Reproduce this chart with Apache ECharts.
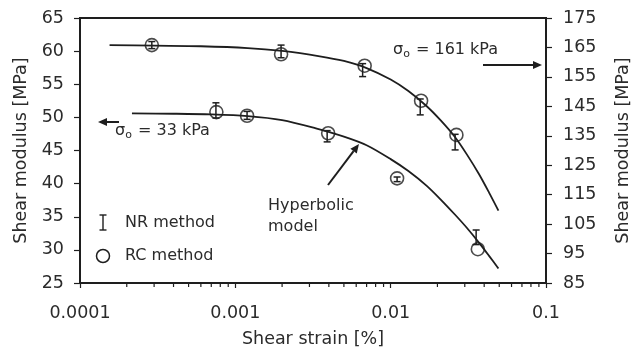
<!DOCTYPE html>
<html>
<head>
<meta charset="utf-8">
<script src="https://cdn.jsdelivr.net/npm/echarts@6/dist/echarts.min.js"></script>
<style>
html,body{margin:0;padding:0;background:#fff;}
#chart{width:640px;height:356px;}
</style>
</head>
<body>
<div id="chart"></div>
<script>
// ---- data ----
const xTickLabels = ['0.0001', '0.001', '0.01', '0.1'];
const leftTicks = [25, 30, 35, 40, 45, 50, 55, 60, 65];
const rightTicks = [85, 95, 105, 115, 125, 135, 145, 155, 165, 175];
const minorTickStrain = [0.0002,0.0003,0.0004,0.0005,0.0006,0.0007,0.0008,0.0009,
                         0.002,0.003,0.004,0.005,0.006,0.007,0.008,0.009,
                         0.02,0.03,0.04,0.05,0.06,0.07,0.08,0.09];

// sigma_o = 33 kPa (left axis)
const rcStrain33 = [0.000755, 0.00119, 0.00396, 0.0110, 0.0364];
const rcG33      = [50.8, 50.25, 47.6, 40.8, 30.1];
const nrStrain33 = [0.00075, 0.00119, 0.0039, 0.0110, 0.0355];
const nrLow33    = [49.9, 49.7, 46.3, 40.3, 30.8];
const nrHigh33   = [52.2, 50.9, 48.0, 41.0, 33.0];
const curveStrain33 = [0.000216, 0.0004, 0.0007, 0.0012, 0.002, 0.0033, 0.005, 0.007, 0.010, 0.013, 0.017, 0.021, 0.026, 0.031, 0.037, 0.043, 0.0494];
const curveG33      = [50.6, 50.55, 50.45, 50.2, 49.6, 48.35, 47.1, 45.8, 43.7, 41.9, 39.7, 37.6, 35.3, 33.3, 31.1, 29.1, 27.2];

// sigma_o = 161 kPa (right axis)
const rcStrain161 = [0.00029, 0.00197, 0.0068, 0.0157, 0.0265];
const rcG161      = [165.8, 162.7, 158.8, 146.9, 135.3];
const nrStrain161 = [0.00029, 0.00197, 0.0066, 0.0155, 0.0260];
const nrLow161    = [164.6, 161.5, 155.1, 142.1, 130.2];
const nrHigh161   = [167.0, 165.8, 159.5, 147.5, 135.5];
const curveStrain161 = [0.000155, 0.0003, 0.0006, 0.0012, 0.002, 0.0035, 0.005, 0.007, 0.010, 0.013, 0.017, 0.021, 0.026, 0.031, 0.037, 0.043, 0.0494];
const curveG161      = [165.8, 165.6, 165.4, 164.8, 163.8, 162.0, 160.4, 158.0, 154.1, 150.2, 145.1, 140.2, 134.5, 128.6, 122.0, 115.7, 109.6];

// ---- helpers ----
const zip = (a, b) => a.map((v, i) => [v, b[i]]);
const zip3 = (a, b, c) => a.map((v, i) => [v, b[i], c[i]]);
const INK = '#1e1e1e';
const TXT = '#2b2b2b';
const FONT = '"DejaVu Sans", "Liberation Sans", Arial, sans-serif';

function errorBar(params, api) {
  const x = api.value(0);
  const p1 = api.coord([x, api.value(1)]);
  const p2 = api.coord([x, api.value(2)]);
  const w = 3.5;
  const st = { stroke: INK, lineWidth: 1.5 };
  return {
    type: 'group',
    children: [
      { type: 'line', shape: { x1: p1[0], y1: p1[1], x2: p2[0], y2: p2[1] }, style: st },
      { type: 'line', shape: { x1: p1[0] - w, y1: p1[1], x2: p1[0] + w, y2: p1[1] }, style: st },
      { type: 'line', shape: { x1: p2[0] - w, y1: p2[1], x2: p2[0] + w, y2: p2[1] }, style: st }
    ]
  };
}
function minorTick(params, api) {
  const p = api.coord([api.value(0), leftTicks[0]]);
  return { type: 'line', shape: { x1: p[0], y1: p[1], x2: p[0], y2: p[1] + 4 }, style: { stroke: INK, lineWidth: 1.2 } };
}

function arrow(x1, y1, x2, y2) {
  const ang = Math.atan2(y2 - y1, x2 - x1);
  const L = 9, H = 4;
  const bx = x2 - L * Math.cos(ang), by = y2 - L * Math.sin(ang);
  const nx = -Math.sin(ang) * H, ny = Math.cos(ang) * H;
  return {
    type: 'group',
    children: [
      { type: 'line', shape: { x1: x1, y1: y1, x2: bx, y2: by }, style: { stroke: INK, lineWidth: 2 } },
      { type: 'polygon', shape: { points: [[x2, y2], [bx + nx, by + ny], [bx - nx, by - ny]] }, style: { fill: INK } }
    ]
  };
}
const sigmaRich = {
  s: { fontFamily: FONT, fontSize: 16, fill: TXT, color: TXT },
  o: { fontFamily: FONT, fontSize: 11, fill: TXT, color: TXT, padding: [9, 1, 0, 0] }
};

const chart = echarts.init(document.getElementById('chart'), null, { renderer: 'canvas' });
const axisLabelStyle = { fontFamily: FONT, fontSize: 17.5, color: TXT };
const nameStyle = { fontFamily: FONT, fontSize: 17.5, color: TXT };

const option = {
  backgroundColor: '#fff',
  animation: false,
  grid: { left: 80, right: 88, top: 18, bottom: 73, show: true, borderColor: INK, borderWidth: 2, backgroundColor: 'transparent' },
  xAxis: {
    type: 'log', logBase: 10, min: 0.0001, max: 0.1,
    name: 'Shear strain [%]', nameLocation: 'middle', nameGap: 47, nameTextStyle: nameStyle,
    axisLine: { lineStyle: { color: INK, width: 2 } },
    axisTick: { length: 5, lineStyle: { color: INK, width: 1.2 } },
    axisLabel: Object.assign({ margin: 21, formatter: v => xTickLabels[Math.round(Math.log10(v)) + 4] }, axisLabelStyle),
    splitLine: { show: false }
  },
  yAxis: [
    {
      type: 'value', min: leftTicks[0], max: leftTicks[leftTicks.length - 1], interval: 5, position: 'left',
      name: 'Shear modulus [MPa]', nameLocation: 'middle', nameGap: 47, nameRotate: 90, nameTextStyle: nameStyle,
      axisLine: { show: true, lineStyle: { color: INK, width: 2 } },
      axisTick: { show: true, length: 6, lineStyle: { color: INK, width: 1.2 } },
      axisLabel: Object.assign({ margin: 16 }, axisLabelStyle),
      splitLine: { show: false }
    },
    {
      type: 'value', min: rightTicks[0], max: rightTicks[rightTicks.length - 1], interval: 10, position: 'right',
      name: 'Shear modulus [MPa]', nameLocation: 'middle', nameGap: 68, nameRotate: 90, nameTextStyle: nameStyle,
      axisLine: { show: true, lineStyle: { color: INK, width: 2 } },
      axisTick: { show: true, length: 6, lineStyle: { color: INK, width: 1.2 } },
      axisLabel: Object.assign({ margin: 17 }, axisLabelStyle),
      splitLine: { show: false }
    }
  ],
  series: [
    { name: 'Hyperbolic model 33', type: 'line', yAxisIndex: 0, data: zip(curveStrain33, curveG33), smooth: 0.3, showSymbol: false, symbol: 'none', lineStyle: { color: INK, width: 1.8 } },
    { name: 'Hyperbolic model 161', type: 'line', yAxisIndex: 1, data: zip(curveStrain161, curveG161), smooth: 0.3, showSymbol: false, symbol: 'none', lineStyle: { color: INK, width: 1.8 } },
    { name: 'NR method', type: 'custom', yAxisIndex: 0, renderItem: errorBar, encode: { x: 0, y: [1, 2] }, data: zip3(nrStrain33, nrLow33, nrHigh33), clip: false, z: 3 },
    { name: 'NR method', type: 'custom', yAxisIndex: 1, renderItem: errorBar, encode: { x: 0, y: [1, 2] }, data: zip3(nrStrain161, nrLow161, nrHigh161), clip: false, z: 3 },
    { name: 'RC method', type: 'scatter', yAxisIndex: 0, data: zip(rcStrain33, rcG33), symbol: 'circle', symbolSize: 13, itemStyle: { color: 'rgba(0,0,0,0)', borderColor: INK, borderWidth: 1.6 }, z: 4 },
    { name: 'RC method', type: 'scatter', yAxisIndex: 1, data: zip(rcStrain161, rcG161), symbol: 'circle', symbolSize: 13, itemStyle: { color: 'rgba(0,0,0,0)', borderColor: INK, borderWidth: 1.6 }, z: 4 },
    { name: 'minor ticks', type: 'custom', yAxisIndex: 0, renderItem: minorTick, data: minorTickStrain.map(v => [v]), encode: { x: 0 }, clip: false, silent: true }
  ],
  graphic: [
    // legend
    { type: 'line', shape: { x1: 103, y1: 215, x2: 103, y2: 230 }, style: { stroke: INK, lineWidth: 1.4 } },
    { type: 'line', shape: { x1: 99.5, y1: 215, x2: 106.5, y2: 215 }, style: { stroke: INK, lineWidth: 1.4 } },
    { type: 'line', shape: { x1: 99.5, y1: 230, x2: 106.5, y2: 230 }, style: { stroke: INK, lineWidth: 1.4 } },
    { type: 'circle', shape: { cx: 103, cy: 256, r: 6.5 }, style: { stroke: INK, lineWidth: 1.5, fill: 'rgba(0,0,0,0)' } },
    { type: 'text', left: 125, top: 215, style: { text: 'NR method', font: '16px ' + FONT, fill: TXT } },
    { type: 'text', left: 125, top: 248, style: { text: 'RC method', font: '16px ' + FONT, fill: TXT } },
    // annotations
    { type: 'text', left: 115, top: 123, style: { text: '{s|σ}{o|o}{s| = 33 kPa}', rich: sigmaRich, fill: TXT } },
    { type: 'text', left: 393, top: 42, style: { text: '{s|σ}{o|o}{s| = 161 kPa}', rich: sigmaRich, fill: TXT } },
    { type: 'text', left: 268, top: 195, style: { text: 'Hyperbolic\nmodel', font: '16px ' + FONT, fill: TXT, lineHeight: 21 } },
    arrow(119, 122, 98, 122),
    arrow(483, 65, 542, 65),
    arrow(328, 185, 359, 144)
  ]
};
chart.setOption(option);
</script>
</body>
</html>
